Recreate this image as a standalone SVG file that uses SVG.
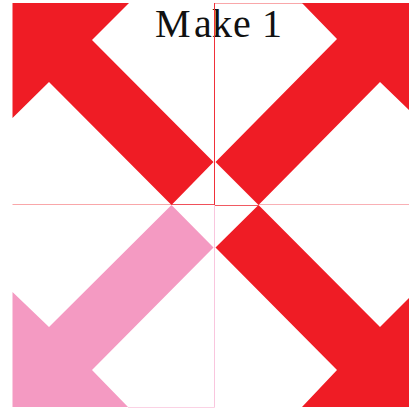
<svg xmlns="http://www.w3.org/2000/svg" width="409" height="411" viewBox="0 0 409 411">
<style>
.red{fill:#ef1c25}
.pink{fill:#f49ac2}
.ln{fill:none;stroke-width:1}
text{font-family:"Liberation Serif","DejaVu Serif",serif;font-size:40px;fill:#111}
</style>
<rect width="409" height="411" fill="#fff"/>
<g id="connectors">
<path class="ln" stroke="#f9a7a9" d="M12.5 204.5H214"/>
<path class="ln" stroke="#f9a7a9" d="M214.5 3.5H409"/>
<path class="ln" stroke="#f9c6de" d="M214.5 205V407.5"/>
<path class="ln" stroke="#f9b0b5" d="M258 204.5H409"/>
<path class="ln" stroke="#fbd2e4" d="M214.5 407.5H128"/>
<path class="ln" stroke="#f0505a" d="M214.5 204.5H172"/>
<path class="ln" stroke="#f05a62" d="M215 205.5H258"/>
</g>
<g id="arrow-top-left"><polygon class="red" points="12.5,3 129,3 92,40 213.5,162 171.5,205 49,82 12.5,118"/></g>
<g id="arrow-top-right"><polygon class="red" points="302,3 409,3 409,110 380,82 258.5,205 215.5,162 337,39"/></g>
<g id="arrow-bottom-right"><polygon class="red" points="215.5,247.5 258.5,205 380,327 409,298 409,407 302,407 337,370"/></g>
<g id="arrow-bottom-left"><polygon class="pink" points="171.5,205 213.5,247.5 92,370 128,407 12.5,407 12.5,292 49,327"/></g>
<g id="title"><text x="155 194 212 233 255 262" y="37">Make 1</text></g>
<path class="ln" stroke="#f0303a" d="M214.5 3V205"/>
</svg>
